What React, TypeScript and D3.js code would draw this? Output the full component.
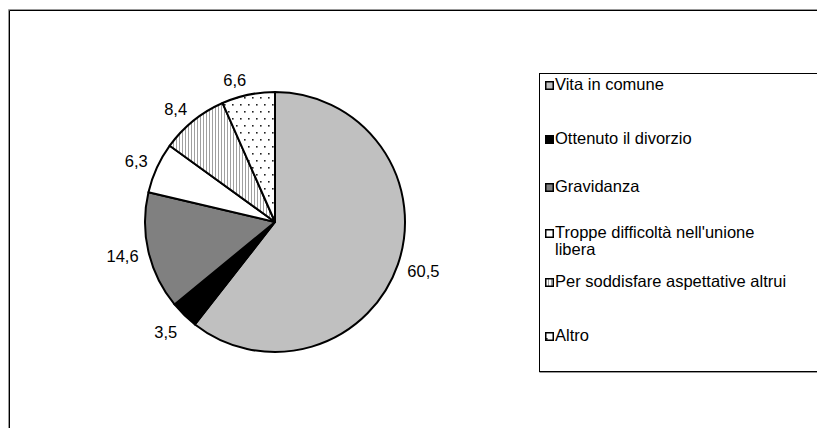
import React from "react";
import * as d3 from "d3";

const categories = [
  "Vita in comune",
  "Ottenuto il divorzio",
  "Gravidanza",
  "Troppe difficoltà nell'unione libera",
  "Per soddisfare aspettative altrui",
  "Altro",
];
const values = [60.5, 3.5, 14.6, 6.3, 8.4, 6.6];
const valueLabels = ["60,5", "3,5", "14,6", "6,3", "8,4", "6,6"];

// legend lines (long label wraps in two)
const legendLines = [
  ["Vita in comune"],
  ["Ottenuto il divorzio"],
  ["Gravidanza"],
  ["Troppe difficoltà nell'unione", "libera"],
  ["Per soddisfare aspettative altrui"],
  ["Altro"],
];
const legendY = [86, 140, 188, 234, 283, 337];

const fills = ["#c0c0c0", "#000000", "#808080", "#ffffff", "url(#stripes)", "url(#dots)"];

const App: React.FC = () => {
  const width = 817;
  const height = 428;
  const cx = 275;
  const cy = 222;
  const r = 130;

  const pie = d3
    .pie<number>()
    .sort(null)
    .value((d) => d);
  const arcs = pie(values);
  const arc = d3.arc<d3.PieArcDatum<number>>().innerRadius(0).outerRadius(r);

  const labelR = r + 10;

  return (
    <svg
      width={width}
      height={height}
      style={{ position: "absolute", left: 0, top: 0, background: "#fff" }}
      fontFamily="'Liberation Sans', Arial, sans-serif"
    >
      <defs>
        <pattern id="stripes" width={3} height={4} patternUnits="userSpaceOnUse">
          <rect width={3} height={4} fill="#fff" />
          <rect x={0} y={0} width={1} height={4} fill="#a0a0a0" />
        </pattern>
        <pattern id="dots" width={8} height={14} patternUnits="userSpaceOnUse">
          <rect width={8} height={14} fill="#fff" />
          <rect x={1} y={1} width={1.6} height={1.6} fill="#222" />
          <rect x={5} y={8} width={1.6} height={1.6} fill="#222" />
        </pattern>
      </defs>

      {/* outer frame */}
      <line x1={8.5} y1={9.5} x2={width} y2={9.5} stroke="#999" />
      <line x1={8.5} y1={9.5} x2={8.5} y2={height} stroke="#999" />
      <line x1={9.5} y1={10.5} x2={width} y2={10.5} stroke="#000" />
      <line x1={9.5} y1={10.5} x2={9.5} y2={height} stroke="#000" />

      {/* pie */}
      <g transform={`translate(${cx},${cy})`}>
        {arcs.map((a, i) => (
          <path key={i} d={arc(a)!} fill={fills[i]} stroke="#000" strokeWidth={2} strokeLinejoin="round" />
        ))}
        {arcs.map((a, i) => {
          const mid = (a.startAngle + a.endAngle) / 2;
          const s = Math.sin(mid);
          const c = Math.cos(mid);
          const x = labelR * s;
          // labels below the centre sit a bit lower, as in the source
          const y = -labelR * c - c * (c < 0 ? 16 : 3);
          return (
            <text
              key={i}
              x={x}
              y={y}
              textAnchor={s >= 0 ? "start" : "end"}
              dominantBaseline="middle"
              fontSize={16.5}
              fill="#000"
            >
              {valueLabels[i]}
            </text>
          );
        })}
      </g>

      {/* legend */}
      <rect x={539.5} y={73.5} width={300} height={298} fill="#fff" stroke="#000" />
      <line x1={539.5} y1={372.5} x2={width} y2={372.5} stroke="#999" />
      {categories.map((c, i) => (
        <g key={c} transform={`translate(545,${legendY[i]})`}>
          <rect x={0.75} y={-4.25} width={7.5} height={7.5} fill={fills[i]} stroke="#000" strokeWidth={1.5} />
          {legendLines[i].map((ln, j) => (
            <text key={j} x={10} y={j * 17} dominantBaseline="middle" fontSize={16.5} fill="#000">
              {ln}
            </text>
          ))}
        </g>
      ))}
    </svg>
  );
};

export default App;
